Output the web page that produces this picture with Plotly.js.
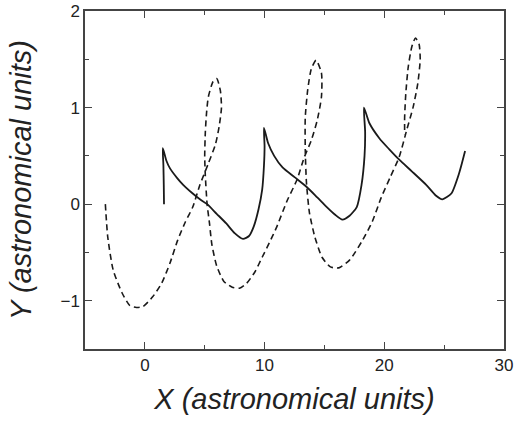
<!DOCTYPE html>
<html>
<head>
<meta charset="utf-8">
<script src="https://cdn.plot.ly/plotly-3.0.1.min.js"></script>
<style>html,body{margin:0;padding:0;background:#fff;}#chart{width:515px;height:422px;}</style>
</head>
<body>
<div id="chart"></div>
<script>
// Solid trajectory (astronomical units)
const solidX = [1.6, 1.58, 1.55, 1.5, 1.8, 2.1, 2.7, 3.2, 4.0, 4.6, 5.2, 6.0, 6.8, 7.5, 8.2, 8.7, 9.1, 9.5, 9.8, 9.95, 10.0, 9.95,
  10.3, 10.8, 11.5, 12.5, 13.5, 14.4, 15.2, 15.9, 16.5, 17.1, 17.7, 18.1, 18.35, 18.4, 18.3,
  18.75, 19.6, 20.4, 21.25, 22.3, 23.5, 24.3, 24.85, 25.6, 26.25, 26.75];
const solidY = [0.0, 0.2, 0.4, 0.58, 0.45, 0.37, 0.27, 0.2, 0.11, 0.05, 0.0, -0.1, -0.2, -0.3, -0.36, -0.33, -0.23, -0.05, 0.15, 0.4, 0.6, 0.79,
  0.63, 0.5, 0.38, 0.28, 0.18, 0.07, -0.03, -0.11, -0.16, -0.12, -0.03, 0.2, 0.5, 0.75, 1.0,
  0.84, 0.68, 0.57, 0.46, 0.34, 0.2, 0.09, 0.05, 0.11, 0.32, 0.55];

// Dashed trajectory (astronomical units)
const dashX = [-3.3, -3.1, -2.65, -1.9, -1.25, -0.7, -0.15, 0.65, 1.4, 2.1, 2.75, 3.4, 4.0, 4.6, 5.3, 5.9, 6.2, 6.4, 6.3, 6.0, 5.7, 5.3, 5.15, 5.05, 5.0, 5.05, 5.2, 5.4, 5.6, 6.0, 6.6, 7.3, 7.9, 8.5, 9.2, 9.8,
  10.4, 11.0, 11.9, 12.7, 13.3, 13.9, 14.4, 14.75, 14.75, 14.3, 13.9, 13.6, 13.4, 13.4, 13.5, 13.75, 14.2, 14.8, 15.5, 16.2, 17.1, 18.2, 19.0,
  19.75, 20.5, 21.25, 21.9, 22.4, 22.8, 23.0, 22.9, 22.6, 22.3, 22.0, 21.8, 21.7, 21.7];
const dashY = [0.0, -0.34, -0.68, -0.92, -1.05, -1.07, -1.06, -0.96, -0.82, -0.61, -0.37, -0.18, -0.03, 0.2, 0.42, 0.62, 0.8, 1.0, 1.18, 1.3, 1.27, 1.11, 0.94, 0.74, 0.49, 0.3, 0.0, -0.2, -0.42, -0.64, -0.8, -0.86, -0.87, -0.82, -0.7, -0.55,
  -0.4, -0.24, 0.04, 0.25, 0.48, 0.66, 0.87, 1.11, 1.36, 1.49, 1.4, 1.18, 0.9, 0.56, 0.22, -0.09, -0.34, -0.55, -0.65, -0.66, -0.58, -0.37, -0.18,
  0.07, 0.28, 0.49, 0.78, 1.0, 1.25, 1.5, 1.66, 1.72, 1.63, 1.42, 1.15, 0.9, 0.72];

const xTitle = "X (astronomical units)";
const yTitle = "Y (astronomical units)";

const traces = [
  {x: solidX, y: solidY, mode: "lines", type: "scatter",
   line: {color: "#1a1a1a", width: 1.8, shape: "spline", smoothing: 0.6}},
  {x: dashX, y: dashY, mode: "lines", type: "scatter",
   line: {color: "#1a1a1a", width: 1.6, dash: "6px,4px", shape: "spline", smoothing: 0.6}}
];

const axisCommon = {
  showgrid: false, zeroline: false, showline: true, linecolor: "#444", linewidth: 1.6,
  mirror: "ticks", ticks: "inside", ticklen: 7, tickwidth: 1.2, tickcolor: "#444",
  tickfont: {family: "Liberation Sans, Arial, sans-serif", size: 17, color: "#222"}
};

const layout = {
  width: 515, height: 422,
  margin: {l: 85, r: 11, t: 11, b: 73},
  paper_bgcolor: "#fff", plot_bgcolor: "#fff",
  showlegend: false,
  xaxis: Object.assign({}, axisCommon, {
    range: [-5, 30], tickvals: [0, 10, 20, 30],
    minor: {tickvals: [-5, 5, 15, 25], ticks: "inside", ticklen: 4, tickcolor: "#444", tickwidth: 1.2},
    title: {text: xTitle, standoff: 14, font: {family: "Liberation Sans, Arial, sans-serif", size: 29, color: "#222", style: "italic"}}
  }),
  yaxis: Object.assign({}, axisCommon, {
    range: [-1.5, 2], tickvals: [-1, 0, 1, 2],
    minor: {tickvals: [-1.5, -0.5, 0.5, 1.5], ticks: "inside", ticklen: 4, tickcolor: "#444", tickwidth: 1.2},
    title: {text: yTitle, standoff: 20, font: {family: "Liberation Sans, Arial, sans-serif", size: 29, color: "#222", style: "italic"}}
  })
};

Plotly.newPlot("chart", traces, layout, {staticPlot: true, displayModeBar: false});
</script>
</body>
</html>
